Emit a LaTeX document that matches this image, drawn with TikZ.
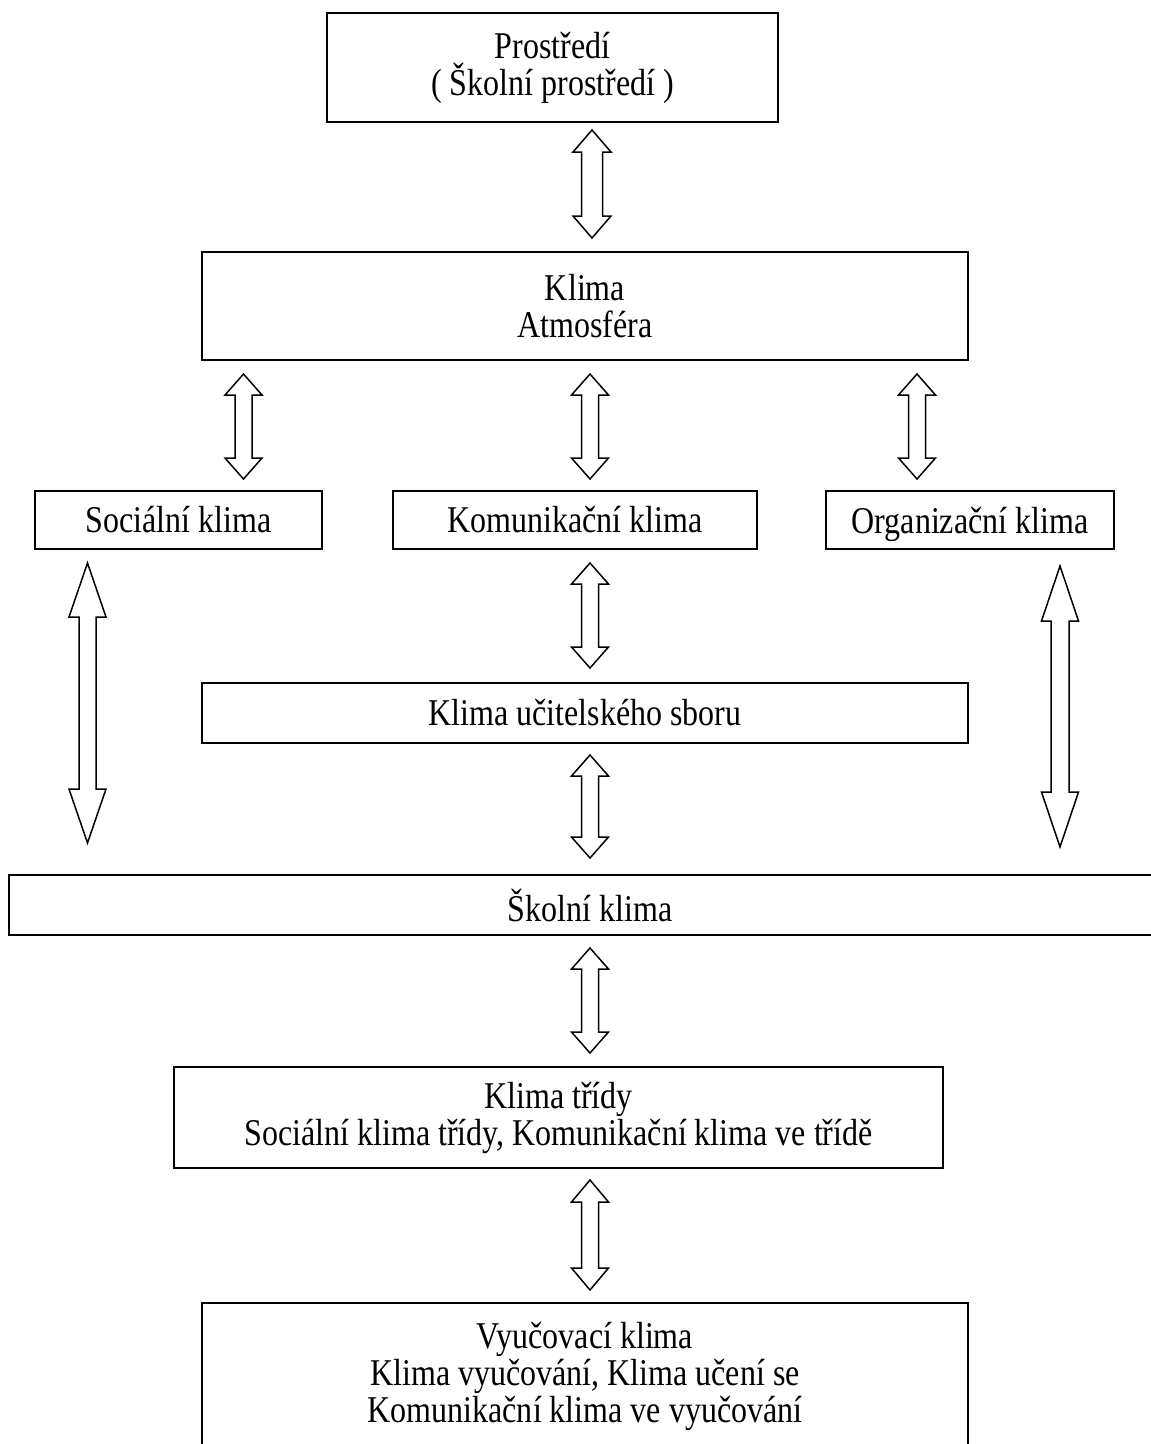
\documentclass[tikz,border=0pt]{standalone}
\usepackage{fontspec}
\setmainfont{Liberation Serif}
\newfontfamily\tallserif[FakeStretch=0.847]{Liberation Serif}
\newcommand\dblarr[6]{% cx, ytop, ybot, headlen, head half width, shaft half width
  \draw[blockarrow] (#1,#2) -- (#1+#5,#2+#4) -- (#1+#6,#2+#4) -- (#1+#6,#3-#4)
    -- (#1+#5,#3-#4) -- (#1,#3) -- (#1-#5,#3-#4) -- (#1-#6,#3-#4)
    -- (#1-#6,#2+#4) -- (#1-#5,#2+#4) -- cycle;}
\begin{document}
\begin{tikzpicture}[x=1pt,y=-1pt,
  box/.style={draw, line width=1.5pt, inner sep=0pt, align=center,
    font=\tallserif\fontsize{37.8}{37}\selectfont},
  blockarrow/.style={draw, line width=1.5pt, fill=white, line join=miter}]
\useasboundingbox (0,0) rectangle (1151,1444);
\clip (0,0) rectangle (1151,1444);
% boxes
\node[box, minimum width=451, minimum height=109] (prost) at (552.5,67.5) {Prostředí\\( Školní prostředí )};
\node[box, minimum width=766, minimum height=108] (klima) at (585,306) {Klima\\Atmosféra};
\node[box, minimum width=287, minimum height=58] (soc) at (178.5,520) {Sociální klima};
\node[box, minimum width=364, minimum height=58] (kom) at (575,520) {Komunikační klima};
\node[box, minimum width=288, minimum height=58, text depth=0pt] (org) at (970,520) {Organizační klima};
\node[box, minimum width=766, minimum height=60] (sbor) at (585,713) {Klima učitelského sboru};
\node[box, minimum width=1162, minimum height=60] (skol) at (590,905) {Školní klima};
\node[box, minimum width=769, minimum height=101] (trida) at (558.5,1117.5) {Klima třídy\\Sociální klima třídy, Komunikační klima ve třídě};
\node[box, minimum width=766, minimum height=146] (vyuc) at (585,1376) {Vyučovací klima\\Klima vyučování, Klima učení se\\Komunikační klima ve vyučování};
% block arrows
\dblarr{592}{130}{238}{22}{19}{10.5}
\dblarr{243.5}{374}{479}{21}{18.5}{8.5}
\dblarr{590}{374}{479}{21}{18.5}{8.5}
\dblarr{917}{374}{479}{21}{18.5}{8.5}
\dblarr{590}{563}{668}{21}{18.5}{8.5}
\dblarr{87.5}{563}{843}{54}{18.5}{8.5}
\dblarr{1060}{566}{847}{55}{18.5}{9}
\dblarr{590}{755}{858}{21}{18.5}{8.5}
\dblarr{590}{948}{1053}{21}{18.5}{8.5}
\dblarr{590}{1180}{1290}{22}{18.5}{8.5}
\end{tikzpicture}
\end{document}
